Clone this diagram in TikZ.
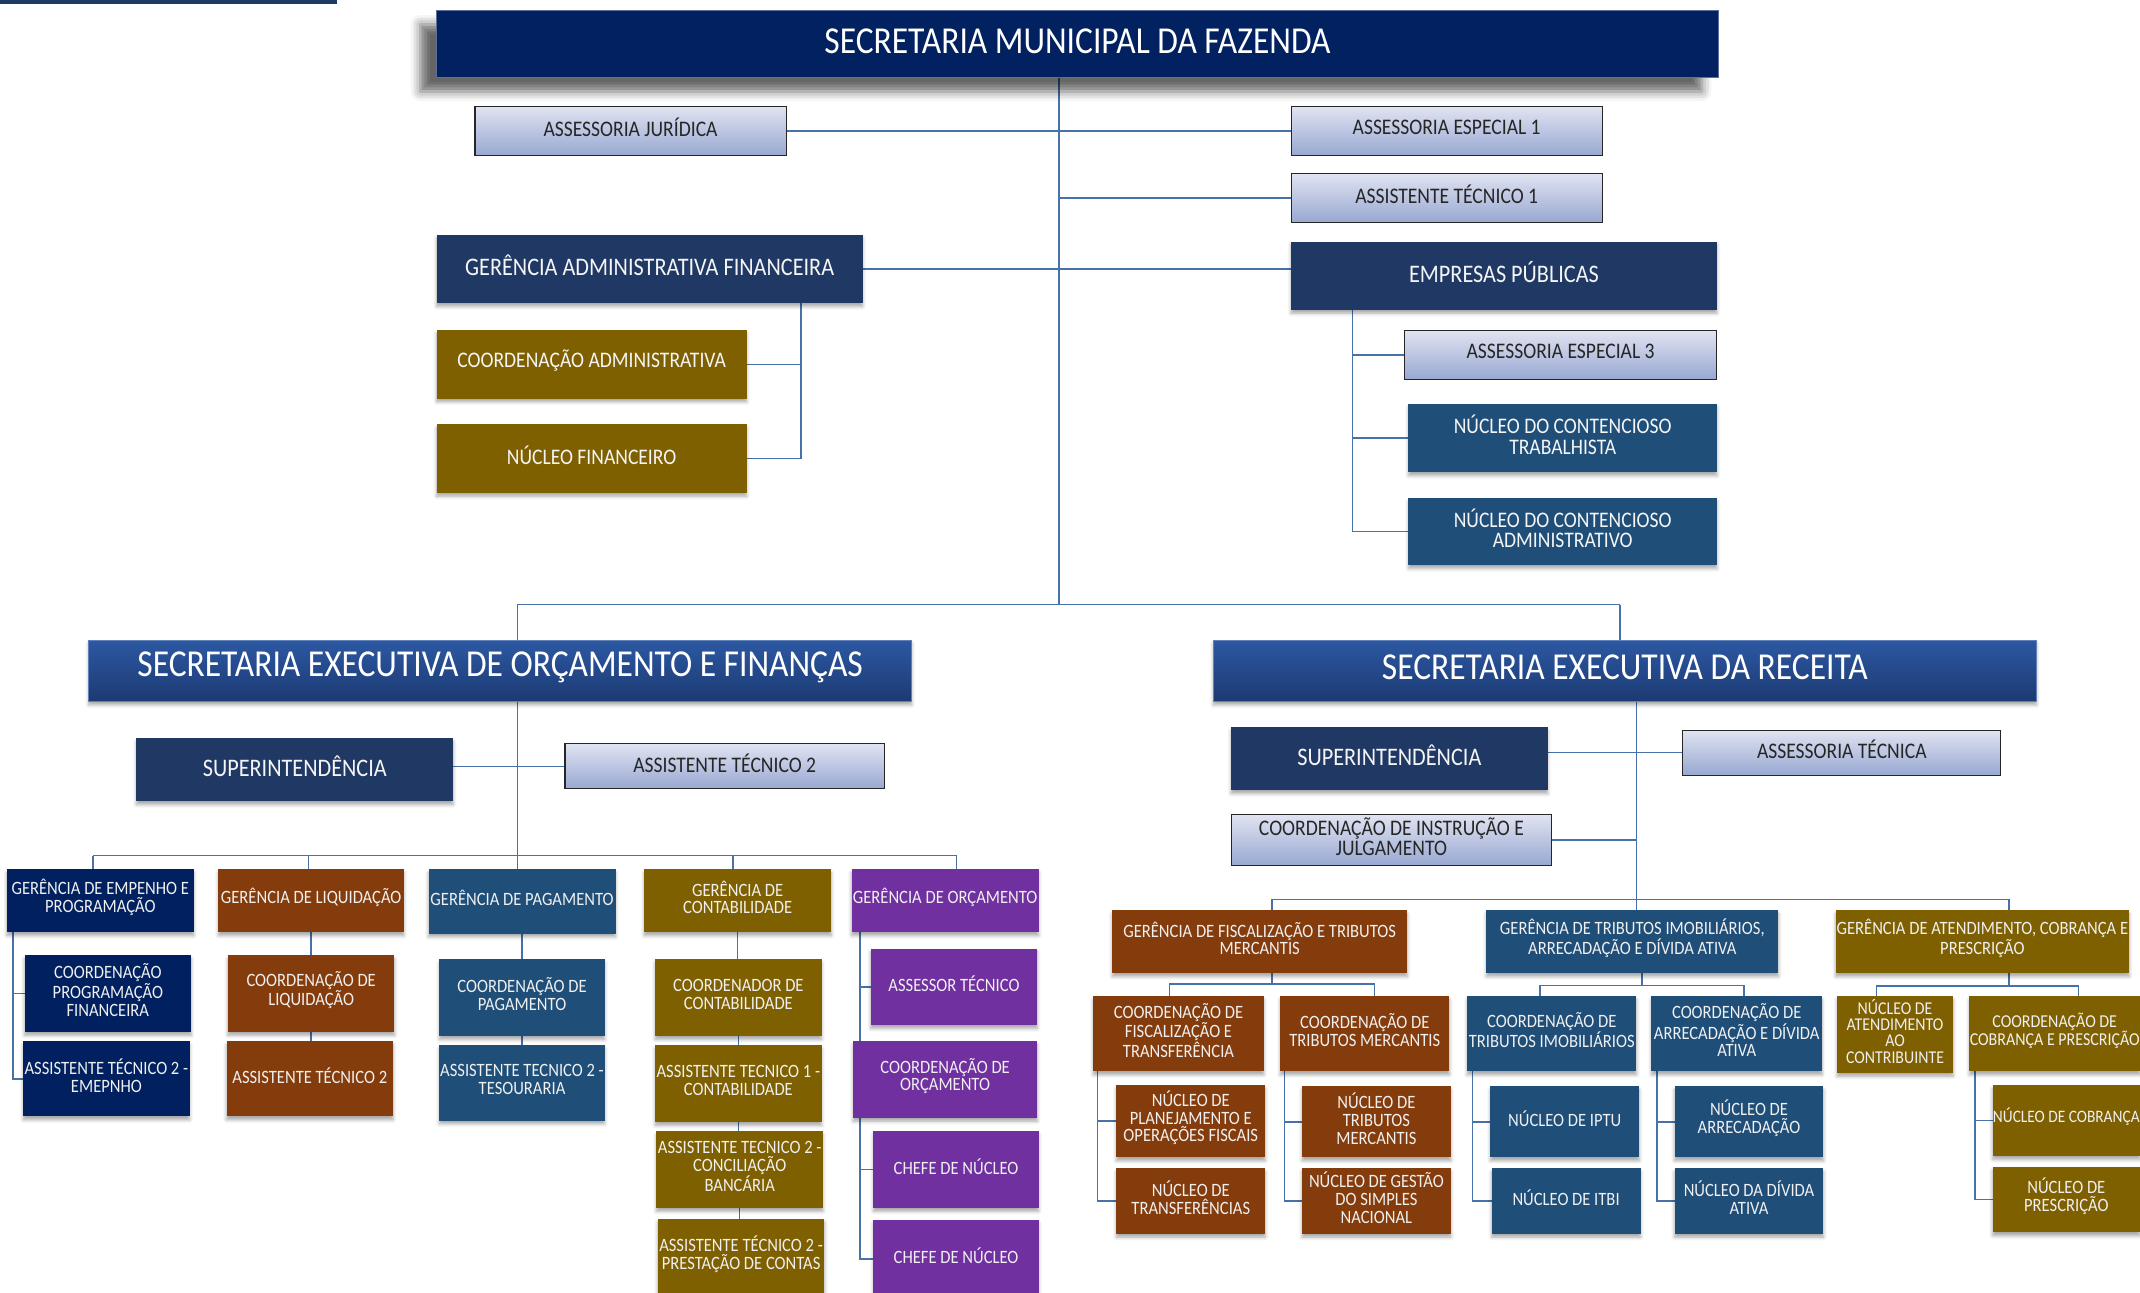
\documentclass[tikz,border=0pt]{standalone}
\usepackage{fontspec}
\setmainfont{Carlito}[FakeStretch=0.88]
\usetikzlibrary{shadows.blur}
\pgfdeclarelayer{bg}
\pgfsetlayers{bg,main}
\definecolor{ctitle}{RGB}{2,33,96}
\definecolor{cnavy}{RGB}{0,32,96}
\definecolor{cdark}{RGB}{32,56,100}
\definecolor{csteel}{RGB}{31,78,121}
\definecolor{cbrown}{RGB}{132,60,12}
\definecolor{colive}{RGB}{127,96,0}
\definecolor{cpurple}{RGB}{112,48,160}
\definecolor{cline}{RGB}{70,114,168}
\definecolor{ltop}{RGB}{224,227,241}
\definecolor{lbot}{RGB}{152,168,210}
\definecolor{setop}{RGB}{44,88,162}
\definecolor{sebot}{RGB}{28,58,115}
\tikzset{
  obox/.style={inner sep=0pt, outer sep=0pt, anchor=north west},
  shd/.style={blur shadow={shadow xshift=0pt, shadow yshift=-2.5pt, shadow blur radius=2.5pt, shadow opacity=35}},
  titlebox/.style={obox, fill=ctitle, draw=ctitle!65!white, line width=0.8pt,
    blur shadow={shadow xshift=-12pt, shadow yshift=-10pt, shadow blur radius=7pt, shadow opacity=60}},
  sebox/.style={obox, top color=setop, bottom color=sebot, draw=setop!75!white, line width=0.8pt, shd},
  lightbox/.style={obox, top color=ltop, bottom color=lbot, draw=black!85, line width=0.8pt},
  fillbox/.style={obox, fill=#1, shd},
  tbig/.style={text=white, font=\fontsize{27.9}{28}\selectfont, align=center, inner sep=0pt},
  tmid/.style={text=white!96!black, font=\fontsize{16.3}{15}\selectfont, align=center, inner sep=0pt},
  tlarge/.style={text=white!96!black, font=\fontsize{18.5}{18}\selectfont, align=center, inner sep=0pt},
  tdark/.style={text=black!85, font=\fontsize{16.3}{15}\selectfont, align=center, inner sep=0pt},
  tsm/.style={text=white!94!black, font=\fontsize{13.8}{13}\selectfont, align=center, inner sep=0pt},
  conn/.style={draw=cline, line width=1.1pt},
}
% box style, text style, name, x1, y1, x2, y2, text
\newcommand\ob[8]{%
  \node[#1, minimum width={(#6)-(#4)}, minimum height={(#7)-(#5)}] (#3) at (#4,#5) {};
  \node[#2] (#3t) at ([yshift=2.5pt]#3.center) {#8};}
\begin{document}
\begin{tikzpicture}[x=1pt,y=-1pt]
\clip (0,0) rectangle (1568,947);
\fill[cdark] (0,0) rectangle (247,3);

% ---------- top level ----------
\ob{titlebox}{tbig}{smf}{320}{8}{1259}{57}{SECRETARIA MUNICIPAL DA FAZENDA}
\ob{lightbox}{tdark}{aj}{348}{78}{576}{114}{ASSESSORIA JURÍDICA}
\ob{lightbox}{tdark}{ae1}{946}{78}{1174}{114}{ASSESSORIA ESPECIAL 1}
\ob{lightbox}{tdark}{at1}{946}{127}{1174}{163}{ASSISTENTE TÉCNICO 1}
\ob{fillbox=cdark}{tlarge}{gaf}{320}{172}{632}{222}{GERÊNCIA ADMINISTRATIVA FINANCEIRA}
\ob{fillbox=cdark}{tlarge}{emp}{946}{177}{1258}{227}{EMPRESAS PÚBLICAS}
\ob{fillbox=colive}{tmid}{cad}{320}{242}{547}{292}{COORDENAÇÃO ADMINISTRATIVA}
\ob{fillbox=colive}{tmid}{nfin}{320}{311}{547}{361}{NÚCLEO FINANCEIRO}
\ob{lightbox}{tdark}{ae3}{1029}{242}{1258}{278}{ASSESSORIA ESPECIAL 3}
\ob{fillbox=csteel}{tmid}{nct}{1032}{296}{1258}{346}{NÚCLEO DO CONTENCIOSO\\TRABALHISTA}
\ob{fillbox=csteel}{tmid}{nca}{1032}{365}{1258}{414}{NÚCLEO DO CONTENCIOSO\\ADMINISTRATIVO}

% ---------- executive secretariats ----------
\ob{sebox}{tbig}{seo}{65}{469}{668}{514}{SECRETARIA EXECUTIVA DE ORÇAMENTO E FINANÇAS}
\ob{sebox}{tbig}{ser}{889}{469}{1492}{514}{SECRETARIA EXECUTIVA DA RECEITA}
\ob{fillbox=cdark}{tlarge}{supa}{100}{541}{332}{587}{SUPERINTENDÊNCIA}
\ob{lightbox}{tdark}{at2}{414}{545}{648}{578}{ASSISTENTE TÉCNICO 2}
\ob{fillbox=cdark}{tlarge}{supb}{902}{533}{1134}{579}{SUPERINTENDÊNCIA}
\ob{lightbox}{tdark}{ast}{1233}{535}{1466}{568}{ASSESSORIA TÉCNICA}
\ob{lightbox}{tdark}{cij}{902}{597}{1137}{634}{COORDENAÇÃO DE INSTRUÇÃO E\\JULGAMENTO}

% ---------- left branch ----------
\ob{fillbox=cnavy}{tsm}{g1}{5}{637}{142}{683}{GERÊNCIA DE EMPENHO E\\PROGRAMAÇÃO}
\ob{fillbox=cbrown}{tsm}{g2}{160}{637}{296}{683}{GERÊNCIA DE LIQUIDAÇÃO}
\ob{fillbox=csteel}{tsm}{g3}{314}{637}{451}{684}{GERÊNCIA DE PAGAMENTO}
\ob{fillbox=colive}{tsm}{g4}{472}{637}{609}{683}{GERÊNCIA DE\\CONTABILIDADE}
\ob{fillbox=cpurple}{tsm}{g5}{624}{637}{761}{683}{GERÊNCIA DE ORÇAMENTO}
\ob{fillbox=cnavy}{tsm}{c1a}{18}{700}{140}{756}{COORDENAÇÃO\\PROGRAMAÇÃO\\FINANCEIRA}
\ob{fillbox=cnavy}{tsm}{c1b}{17}{763}{139}{818}{ASSISTENTE TÉCNICO 2 -\\EMEPNHO}
\ob{fillbox=cbrown}{tsm}{c2a}{167}{700}{289}{756}{COORDENAÇÃO DE\\LIQUIDAÇÃO}
\ob{fillbox=cbrown}{tsm}{c2b}{166}{763}{288}{818}{ASSISTENTE TÉCNICO 2}
\ob{fillbox=csteel}{tsm}{c3a}{322}{703}{443}{759}{COORDENAÇÃO DE\\PAGAMENTO}
\ob{fillbox=csteel}{tsm}{c3b}{322}{766}{443}{821}{ASSISTENTE TECNICO 2 -\\TESOURARIA}
\ob{fillbox=colive}{tsm}{c4a}{480}{703}{602}{759}{COORDENADOR DE\\CONTABILIDADE}
\ob{fillbox=colive}{tsm}{c4b}{480}{766}{602}{822}{ASSISTENTE TECNICO 1 -\\CONTABILIDADE}
\ob{fillbox=colive}{tsm}{c4c}{481}{829}{603}{885}{ASSISTENTE TECNICO 2 -\\CONCILIAÇÃO\\BANCÁRIA}
\ob{fillbox=colive}{tsm}{c4d}{482}{893}{604}{950}{ASSISTENTE TÉCNICO 2 -\\PRESTAÇÃO DE CONTAS}
\ob{fillbox=cpurple}{tsm}{c5a}{638}{695}{760}{751}{ASSESSOR TÉCNICO}
\ob{fillbox=cpurple}{tsm}{c5b}{625}{763}{760}{819}{COORDENAÇÃO DE\\ORÇAMENTO}
\ob{fillbox=cpurple}{tsm}{c5c}{640}{829}{761}{885}{CHEFE DE NÚCLEO}
\ob{fillbox=cpurple}{tsm}{c5d}{640}{894}{761}{951}{CHEFE DE NÚCLEO}

% ---------- right branch ----------
\ob{fillbox=cbrown}{tsm}{r1}{815}{667}{1031}{713}{GERÊNCIA DE FISCALIZAÇÃO E TRIBUTOS\\MERCANTIS}
\ob{fillbox=csteel}{tsm}{r2}{1089}{667}{1303}{713}{GERÊNCIA DE TRIBUTOS IMOBILIÁRIOS,\\ARRECADAÇÃO E DÍVIDA ATIVA}
\ob{fillbox=colive}{tsm}{r3}{1345}{667}{1560}{713}{GERÊNCIA DE ATENDIMENTO, COBRANÇA E\\PRESCRIÇÃO}
\ob{fillbox=cbrown}{tsm}{r1a}{801}{730}{926}{785}{COORDENAÇÃO DE\\FISCALIZAÇÃO E\\TRANSFERÊNCIA}
\ob{fillbox=cbrown}{tsm}{r1b}{938}{730}{1062}{785}{COORDENAÇÃO DE\\TRIBUTOS MERCANTIS}
\ob{fillbox=cbrown}{tsm}{r1aa}{818}{795}{927}{848}{NÚCLEO DE\\PLANEJAMENTO E\\OPERAÇÕES FISCAIS}
\ob{fillbox=cbrown}{tsm}{r1ab}{818}{856}{927}{904}{NÚCLEO DE\\TRANSFERÊNCIAS}
\ob{fillbox=cbrown}{tsm}{r1ba}{954}{796}{1063}{848}{NÚCLEO DE\\TRIBUTOS\\MERCANTIS}
\ob{fillbox=cbrown}{tsm}{r1bb}{954}{856}{1063}{904}{NÚCLEO DE GESTÃO\\DO SIMPLES\\NACIONAL}
\ob{fillbox=csteel}{tsm}{r2a}{1075}{730}{1199}{785}{COORDENAÇÃO DE\\TRIBUTOS IMOBILIÁRIOS}
\ob{fillbox=csteel}{tsm}{r2b}{1210}{730}{1335}{785}{COORDENAÇÃO DE\\ARRECADAÇÃO E DÍVIDA\\ATIVA}
\ob{fillbox=csteel}{tsm}{r2aa}{1092}{796}{1201}{848}{NÚCLEO DE IPTU}
\ob{fillbox=csteel}{tsm}{r2ab}{1093}{856}{1202}{904}{NÚCLEO DE ITBI}
\ob{fillbox=csteel}{tsm}{r2ba}{1227}{796}{1336}{848}{NÚCLEO DE\\ARRECADAÇÃO}
\ob{fillbox=csteel}{tsm}{r2bb}{1227}{856}{1336}{904}{NÚCLEO DA DÍVIDA\\ATIVA}
\ob{fillbox=colive}{tsm,font=\fontsize{13.2}{12}\selectfont}{r3a}{1346}{730}{1431}{786}{NÚCLEO DE\\ATENDIMENTO\\AO\\CONTRIBUINTE}
\ob{fillbox=colive}{tsm,font=\fontsize{13.3}{13}\selectfont}{r3b}{1443}{730}{1568}{785}{COORDENAÇÃO DE\\COBRANÇA E PRESCRIÇÃO}
\ob{fillbox=colive}{tsm,font=\fontsize{12.8}{13}\selectfont}{r3ba}{1460}{795}{1568}{847}{NÚCLEO DE COBRANÇA}
\ob{fillbox=colive}{tsm}{r3bb}{1460}{855}{1568}{903}{NÚCLEO DE\\PRESCRIÇÃO}

% ---------- connectors ----------
\begin{pgfonlayer}{bg}
\coordinate (tk) at (776,443);
\draw[conn] (smf.south -| tk) -- (tk);
\draw[conn] (aj.east) -- (aj.east -| tk);
\draw[conn] (ae1.west) -- (ae1.west -| tk);
\draw[conn] (at1.west) -- (at1.west -| tk);
\draw[conn] (gaf.east) -- (gaf.east -| emp.west);
\coordinate (kg) at (587,0);
\draw[conn] (gaf.south -| kg) |- (cad.east);
\draw[conn] (gaf.south -| kg) |- (nfin.east);
\coordinate (ke) at (991,0);
\draw[conn] (emp.south -| ke) |- (ae3.west);
\draw[conn] (emp.south -| ke) |- (nct.west);
\draw[conn] (emp.south -| ke) |- (nca.west);
\coordinate (bl) at (379,443);
\coordinate (br) at (1187,443);
\draw[conn] (bl) -- (br);
\draw[conn] (bl) -- (bl |- seo.north);
\draw[conn] (br) -- (br |- ser.north);
% left secretariat
\coordinate (lb) at (379,627);
\draw[conn] (seo.south -| lb) -- (lb);
\draw[conn] (at2.west) -- (at2.west -| supa.east);
\draw[conn] (68,627) -- (701,627);
\foreach \n/\x in {g1/68, g2/226, g3/379, g4/537, g5/701}
  \draw[conn] (\x,627) -- (\x,627 |- \n.north);
\coordinate (k1) at (9.7,0);
\draw[conn] (g1.south -| k1) |- (c1a.west);
\draw[conn] (g1.south -| k1) |- (c1b.west);
\draw[conn] (g2.south) -- (g2.south |- c2a.north);
\draw[conn] (c2a.south) -- (c2a.south |- c2b.north);
\draw[conn] (g3.south) -- (g3.south |- c3a.north);
\draw[conn] (c3a.south) -- (c3a.south |- c3b.north);
\draw[conn] (g4.south) -- (g4.south |- c4a.north);
\draw[conn] (c4a.south) -- (c4a.south |- c4b.north);
\draw[conn] (c4b.south) -- (c4b.south |- c4c.north);
\draw[conn] (c4c.south) -- (c4c.south |- c4d.north);
\coordinate (k5) at (630,0);
\draw[conn] (g5.south -| k5) |- (c5a.west);
\draw[conn] (g5.south -| k5) |- (c5c.west);
\draw[conn] (g5.south -| k5) |- (c5d.west);
% right secretariat
\coordinate (rt) at (1199,0);
\draw[conn] (ser.south -| rt) -- (r2.north -| rt);
\draw[conn] (ast.west) -- (ast.west -| supb.east);
\draw[conn] (cij.east) -- (cij.east -| rt);
\draw[conn] (932,659) -- (1472,659);
\draw[conn] (932,659) -- (932,659 |- r1.north);
\draw[conn] (1472,659) -- (1472,659 |- r3.north);
\draw[conn] (r1.south -| 932,0) -- (932,721);
\draw[conn] (857,721 |- r1a.north) -- (857,721) -- (1007,721) -- (1007,721 |- r1b.north);
\draw[conn] (r2.south -| 1203,0) -- (1203,722);
\draw[conn] (1128.5,722 |- r2a.north) -- (1128.5,722) -- (1278,722) -- (1278,722 |- r2b.north);
\draw[conn] (r3.south -| 1472,0) -- (1472,722.5);
\draw[conn] (1375,722.5 |- r3a.north) -- (1375,722.5) -- (1523,722.5) -- (1523,722.5 |- r3b.north);
\draw[conn] (r1a.south -| 804,0) |- (r1aa.west);
\draw[conn] (r1a.south -| 804,0) |- (r1ab.west);
\draw[conn] (r1b.south -| 941,0) |- (r1ba.west);
\draw[conn] (r1b.south -| 941,0) |- (r1bb.west);
\draw[conn] (r2a.south -| 1079,0) |- (r2aa.west);
\draw[conn] (r2a.south -| 1079,0) |- (r2ab.west);
\draw[conn] (r2b.south -| 1214,0) |- (r2ba.west);
\draw[conn] (r2b.south -| 1214,0) |- (r2bb.west);
\draw[conn] (r3b.south -| 1447,0) |- (r3ba.west);
\draw[conn] (r3b.south -| 1447,0) |- (r3bb.west);
\end{pgfonlayer}
\end{tikzpicture}
\end{document}
